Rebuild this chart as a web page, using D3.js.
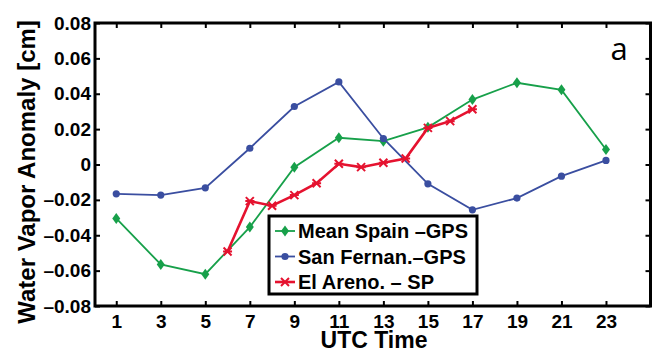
<!DOCTYPE html>
<html>
<head>
<meta charset="utf-8">
<title>Water Vapor Anomaly</title>
<style type="text/css">
body { margin: 0; background: #fff; }
.axis text { font-family: "Liberation Sans", Arial, sans-serif; font-weight: bold; font-size: 19px; fill: #000; }
.axis path { display: none; }
.axis line { stroke: #000; stroke-width: 2; }
.frame { fill: none; stroke: #000; stroke-width: 3; }
.title { font-family: "Liberation Sans", Arial, sans-serif; font-weight: bold; fill: #000; }
.legend text { font-family: "Liberation Sans", Arial, sans-serif; font-weight: bold; font-size: 20px; fill: #000; }
</style>
</head>
<body>
<div id="chart"></div>

<script src="https://d3js.org/d3.v7.min.js"></script>
<script>

// hours of day (UTC)
var gpsHours = [1, 3, 5, 7, 9, 11, 13, 15, 17, 19, 21, 23];
var spHours = [6, 7, 8, 9, 10, 11, 12, 13, 14, 15, 16, 17];

// series values [cm]
var meanSpain = [-0.0305, -0.0565, -0.0620, -0.0354, -0.0015, 0.0151, 0.0132, 0.0210, 0.0367, 0.0462, 0.0422, 0.0085];
var sanFernando = [-0.0166, -0.0173, -0.0132, 0.0092, 0.0328, 0.0467, 0.0147, -0.0109, -0.0256, -0.0190, -0.0066, 0.0023];
var elArenosillo = [-0.0492, -0.0207, -0.0233, -0.0173, -0.0106, 0.0004, -0.0015, 0.0010, 0.0034, 0.0207, 0.0245, 0.0312];

var legendNames = ["Mean Spain \u2013GPS", "San Fernan.\u2013GPS", "El Areno. \u2013 SP"];

var xTicks = [1, 3, 5, 7, 9, 11, 13, 15, 17, 19, 21, 23];
var yTicks = [-0.08, -0.06, -0.04, -0.02, 0, 0.02, 0.04, 0.06, 0.08];
var yTickLabels = ["\u20130.08", "\u20130.06", "\u20130.04", "\u20130.02", "0", "0.02", "0.04", "0.06", "0.08"];

var width = 652, height = 354;
var margin = {top: 23, right: 1.5, bottom: 48, left: 95};
var w = width - margin.left - margin.right,
    h = height - margin.top - margin.bottom;

var xScale = d3.scaleLinear().domain([0, 25]).range([-1, w]);
var yScale = d3.scaleLinear().domain([-0.08, 0.08]).range([h, 0]);

var svg = d3.select("#chart").append("svg")
    .attr("width", width)
    .attr("height", height)
  .append("g")
    .attr("transform", "translate(" + margin.left + "," + margin.top + ")");

// axes with inward ticks on all four sides
svg.append("g")
    .attr("class", "x axis")
    .attr("transform", "translate(0," + h + ")")
    .call(d3.axisBottom(xScale).tickValues(xTicks).tickSize(-5).tickPadding(8.5));

svg.append("g")
    .attr("class", "x axis")
    .call(d3.axisTop(xScale).tickValues(xTicks).tickSize(-5).tickFormat(""));

svg.append("g")
    .attr("class", "y axis")
    .call(d3.axisLeft(yScale).tickValues(yTicks).tickSize(-5).tickPadding(4)
        .tickFormat(function(d, i) { return yTickLabels[i]; }));

svg.append("g")
    .attr("class", "y axis")
    .attr("transform", "translate(" + w + ",0)")
    .call(d3.axisRight(yScale).tickValues(yTicks).tickSize(-5).tickFormat(""));

svg.append("rect")
    .attr("class", "frame")
    .attr("x", 0)
    .attr("y", 0)
    .attr("width", w)
    .attr("height", h);

var series = [
  {name: legendNames[0], hours: gpsHours, values: meanSpain, color: "#17a04a", width: 1.8, marker: "diamond"},
  {name: legendNames[1], hours: gpsHours, values: sanFernando, color: "#3a4ea0", width: 1.8, marker: "circle"},
  {name: legendNames[2], hours: spHours, values: elArenosillo, color: "#e5122f", width: 2.6, marker: "cross"}
];

function drawMarker(g, s, x, y) {
  if (s.marker === "diamond") {
    g.append("path")
      .attr("d", "M" + x + "," + (y - 5.5) + "L" + (x + 4) + "," + y + "L" + x + "," + (y + 5.5) + "L" + (x - 4) + "," + y + "Z")
      .attr("fill", s.color);
  } else if (s.marker === "circle") {
    g.append("circle")
      .attr("cx", x).attr("cy", y).attr("r", 3.6)
      .attr("fill", s.color);
  } else {
    g.append("path")
      .attr("d", "M" + (x - 4) + "," + (y - 4) + "L" + (x + 4) + "," + (y + 4) +
                 "M" + (x - 4) + "," + (y + 4) + "L" + (x + 4) + "," + (y - 4) +
                 "M" + (x - 4.5) + "," + y + "L" + (x + 4.5) + "," + y)
      .attr("stroke", s.color)
      .attr("stroke-width", 2)
      .attr("fill", "none");
  }
}

series.forEach(function(s) {
  var pts = s.hours.map(function(hr, i) { return [hr, s.values[i]]; });
  var line = d3.line()
      .x(function(d) { return xScale(d[0]); })
      .y(function(d) { return yScale(d[1]); });
  var g = svg.append("g");
  g.append("path")
      .datum(pts)
      .attr("fill", "none")
      .attr("stroke", s.color)
      .attr("stroke-width", s.width)
      .attr("d", line);
  pts.forEach(function(d) { drawMarker(g, s, xScale(d[0]), yScale(d[1])); });
});

// legend
var lg = svg.append("g")
    .attr("class", "legend")
    .attr("transform", "translate(" + (269 - margin.left) + "," + (216 - margin.top) + ")");

lg.append("rect")
    .attr("width", 208)
    .attr("height", 78)
    .attr("fill", "#fff")
    .attr("stroke", "#000")
    .attr("stroke-width", 3);

series.forEach(function(s, i) {
  var cy = 15 + i * 25.5;
  var row = lg.append("g");
  row.append("line")
      .attr("x1", 6).attr("x2", 26)
      .attr("y1", cy).attr("y2", cy)
      .attr("stroke", s.color)
      .attr("stroke-width", s.width);
  drawMarker(row, s, 16, cy);
  row.append("text")
      .attr("x", 29)
      .attr("y", cy + 7)
      .text(s.name);
});

// axis titles
svg.append("text")
    .attr("class", "title")
    .attr("x", 374 - margin.left)
    .attr("y", 348 - margin.top)
    .attr("text-anchor", "middle")
    .style("font-size", "23px")
    .text("UTC Time");

svg.append("text")
    .attr("class", "title")
    .attr("transform", "translate(" + (35 - margin.left) + "," + (172 - margin.top) + ") rotate(-90)")
    .attr("text-anchor", "middle")
    .style("font-size", "24px")
    .text("Water Vapor Anomaly [cm]");

// panel label
svg.append("text")
    .attr("x", 619 - margin.left)
    .attr("y", 60 - margin.top)
    .attr("text-anchor", "middle")
    .style("font-family", "'Open Sans', sans-serif")
    .style("font-size", "31px")
    .text("a");

</script>
</body>
</html>
